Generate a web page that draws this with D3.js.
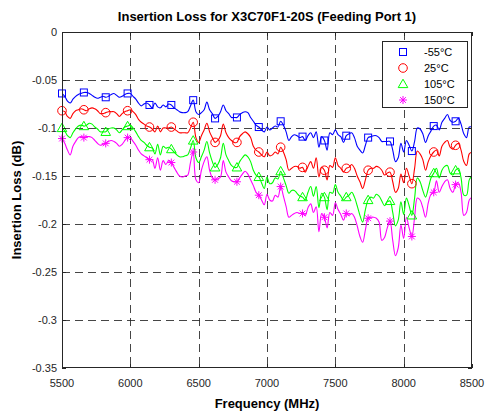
<!DOCTYPE html>
<html>
<head>
<meta charset="utf-8">
<script src="https://cdn.jsdelivr.net/npm/d3@7/dist/d3.min.js"></script>
<style>
  html, body { margin: 0; padding: 0; background: #fff; }
  svg text { font-family: "Liberation Sans", Arial, Helvetica, sans-serif; }
</style>
</head>
<body>
<svg id="chart" width="485" height="411"></svg>
<script>
// ---- data ----
const title = "Insertion Loss for X3C70F1-20S (Feeding Port 1)";
const xLabel = "Frequency (MHz)";
const yLabel = "Insertion Loss (dB)";
const seriesNames = ["-55°C", "25°C", "105°C", "150°C"];
const xTicks = [5500, 6000, 6500, 7000, 7500, 8000, 8500];
const yTicks = [0, -0.05, -0.1, -0.15, -0.2, -0.25, -0.3, -0.35];
const yTickLabels = ["0", "-0.05", "-0.1", "-0.15", "-0.2", "-0.25", "-0.3", "-0.35"];
// frequency sweep 5500..8500 MHz, 20 MHz step
const freqs = d3.range(5500, 8501, 20);

const lossM55 = [
-0.064,-0.067,-0.072,-0.074,-0.070,-0.067,-0.065,-0.064,-0.063,-0.063,
-0.064,-0.066,-0.068,-0.069,-0.068,-0.067,-0.068,-0.067,-0.065,-0.064,
-0.066,-0.068,-0.067,-0.065,-0.064,-0.064,-0.067,-0.070,-0.074,-0.077,
-0.075,-0.074,-0.076,-0.079,-0.074,-0.078,-0.079,-0.076,-0.078,-0.075,
-0.076,-0.079,-0.081,-0.083,-0.084,-0.084,-0.083,-0.077,-0.071,-0.083,
-0.086,-0.084,-0.081,-0.073,-0.081,-0.085,-0.090,-0.088,-0.083,-0.076,
-0.082,-0.085,-0.089,-0.089,-0.089,-0.086,-0.084,-0.083,-0.084,-0.089,
-0.093,-0.097,-0.099,-0.102,-0.104,-0.099,-0.102,-0.100,-0.098,-0.099,
-0.093,-0.097,-0.104,-0.113,-0.109,-0.107,-0.108,-0.110,-0.109,-0.113,
-0.108,-0.105,-0.110,-0.104,-0.120,-0.109,-0.113,-0.123,-0.105,-0.107,
-0.102,-0.107,-0.109,-0.115,-0.108,-0.106,-0.105,-0.110,-0.119,-0.123,
-0.126,-0.118,-0.110,-0.109,-0.108,-0.108,-0.110,-0.114,-0.114,-0.114,
-0.114,-0.123,-0.135,-0.131,-0.116,-0.125,-0.113,-0.118,-0.124,-0.114,
-0.100,-0.101,-0.106,-0.115,-0.108,-0.103,-0.098,-0.097,-0.102,-0.094,
-0.090,-0.086,-0.092,-0.094,-0.093,-0.090,-0.096,-0.106,-0.110,-0.099,
-0.099];

const loss25 = [
-0.082,-0.083,-0.088,-0.090,-0.085,-0.082,-0.081,-0.080,-0.081,-0.082,
-0.080,-0.079,-0.080,-0.082,-0.085,-0.085,-0.084,-0.083,-0.083,-0.083,
-0.085,-0.088,-0.085,-0.083,-0.082,-0.081,-0.083,-0.086,-0.091,-0.094,
-0.096,-0.098,-0.099,-0.101,-0.104,-0.098,-0.104,-0.100,-0.100,-0.100,
-0.099,-0.101,-0.103,-0.105,-0.105,-0.105,-0.105,-0.100,-0.094,-0.110,
-0.115,-0.108,-0.102,-0.095,-0.104,-0.110,-0.115,-0.113,-0.108,-0.096,
-0.105,-0.110,-0.113,-0.115,-0.115,-0.109,-0.106,-0.104,-0.106,-0.110,
-0.119,-0.123,-0.125,-0.128,-0.130,-0.125,-0.129,-0.128,-0.125,-0.127,
-0.120,-0.125,-0.133,-0.144,-0.142,-0.140,-0.140,-0.142,-0.141,-0.146,
-0.140,-0.135,-0.142,-0.131,-0.151,-0.141,-0.144,-0.154,-0.139,-0.141,
-0.131,-0.139,-0.142,-0.146,-0.142,-0.141,-0.138,-0.142,-0.150,-0.156,
-0.163,-0.154,-0.144,-0.142,-0.142,-0.140,-0.141,-0.144,-0.149,-0.147,
-0.146,-0.156,-0.167,-0.163,-0.148,-0.157,-0.142,-0.150,-0.158,-0.142,
-0.124,-0.127,-0.133,-0.144,-0.135,-0.129,-0.125,-0.123,-0.129,-0.119,
-0.115,-0.113,-0.120,-0.122,-0.118,-0.116,-0.123,-0.135,-0.139,-0.127,
-0.125];

const loss105 = [
-0.100,-0.103,-0.108,-0.110,-0.105,-0.101,-0.098,-0.097,-0.098,-0.097,
-0.095,-0.096,-0.099,-0.101,-0.104,-0.104,-0.104,-0.101,-0.100,-0.100,
-0.102,-0.105,-0.102,-0.099,-0.098,-0.097,-0.100,-0.104,-0.109,-0.113,
-0.115,-0.118,-0.120,-0.121,-0.127,-0.117,-0.128,-0.119,-0.121,-0.120,
-0.122,-0.125,-0.128,-0.130,-0.130,-0.129,-0.128,-0.121,-0.113,-0.131,
-0.136,-0.130,-0.123,-0.114,-0.126,-0.135,-0.141,-0.138,-0.131,-0.116,
-0.128,-0.134,-0.139,-0.141,-0.141,-0.135,-0.131,-0.128,-0.130,-0.135,
-0.144,-0.149,-0.151,-0.157,-0.163,-0.151,-0.158,-0.157,-0.152,-0.153,
-0.145,-0.152,-0.160,-0.168,-0.165,-0.165,-0.168,-0.171,-0.172,-0.175,
-0.167,-0.161,-0.171,-0.161,-0.183,-0.168,-0.172,-0.185,-0.167,-0.168,
-0.159,-0.167,-0.171,-0.175,-0.172,-0.170,-0.167,-0.172,-0.181,-0.191,
-0.198,-0.185,-0.175,-0.172,-0.173,-0.169,-0.171,-0.176,-0.181,-0.177,
-0.176,-0.188,-0.202,-0.196,-0.177,-0.190,-0.173,-0.181,-0.191,-0.173,
-0.152,-0.156,-0.165,-0.172,-0.163,-0.152,-0.147,-0.142,-0.152,-0.144,
-0.140,-0.139,-0.147,-0.149,-0.144,-0.142,-0.152,-0.170,-0.170,-0.154,
-0.150];

const loss150 = [
-0.111,-0.116,-0.123,-0.128,-0.119,-0.114,-0.110,-0.109,-0.110,-0.109,
-0.109,-0.110,-0.113,-0.116,-0.118,-0.117,-0.116,-0.114,-0.113,-0.114,
-0.116,-0.119,-0.117,-0.113,-0.110,-0.110,-0.114,-0.118,-0.123,-0.127,
-0.129,-0.131,-0.133,-0.133,-0.142,-0.131,-0.144,-0.134,-0.138,-0.134,
-0.136,-0.141,-0.146,-0.150,-0.151,-0.150,-0.149,-0.136,-0.125,-0.154,
-0.157,-0.144,-0.135,-0.130,-0.144,-0.152,-0.154,-0.153,-0.151,-0.134,
-0.146,-0.151,-0.155,-0.156,-0.156,-0.152,-0.148,-0.145,-0.148,-0.154,
-0.160,-0.167,-0.170,-0.175,-0.180,-0.169,-0.175,-0.176,-0.170,-0.172,
-0.161,-0.171,-0.182,-0.193,-0.191,-0.189,-0.188,-0.189,-0.189,-0.191,
-0.183,-0.179,-0.188,-0.182,-0.208,-0.189,-0.193,-0.204,-0.188,-0.191,
-0.178,-0.185,-0.190,-0.196,-0.189,-0.191,-0.189,-0.193,-0.202,-0.213,
-0.219,-0.206,-0.194,-0.193,-0.193,-0.194,-0.198,-0.217,-0.214,-0.204,
-0.197,-0.217,-0.233,-0.225,-0.201,-0.215,-0.193,-0.204,-0.213,-0.193,
-0.173,-0.175,-0.183,-0.193,-0.178,-0.169,-0.167,-0.155,-0.167,-0.161,
-0.156,-0.154,-0.163,-0.167,-0.159,-0.157,-0.167,-0.191,-0.188,-0.175,
-0.172];

const seriesValues = [lossM55, loss25, loss105, loss150];
const seriesColors = ["#0000ff", "#ff0000", "#00ff00", "#ff00ff"];
const seriesSymbols = ["square", "circle", "triangle", "asterisk"];
const markerEvery = 8;

// ---- layout ----
const svg = d3.select("#chart");
const L = 62, R = 472, T = 32, B = 368;
const x = d3.scaleLinear().domain([5500, 8500]).range([L, R]);
const y = d3.scaleLinear().domain([-0.35, 0]).range([B, T]);

svg.append("rect").attr("width", 485).attr("height", 411).attr("fill", "#fff");

// grid
const grid = svg.append("g").attr("stroke", "#262626").attr("stroke-width", 1)
  .attr("stroke-dasharray", "8,5").attr("stroke-opacity", 0.85).attr("fill", "none");
xTicks.filter(v => v > 5500 && v < 8500).forEach(v => {
  const px = Math.round(x(v)) + 0.5;
  grid.append("line").attr("x1", px).attr("x2", px).attr("y1", T).attr("y2", B);
});
yTicks.filter(v => v < 0 && v > -0.35).forEach(v => {
  const py = Math.round(y(v)) + 0.5;
  grid.append("line").attr("x1", L).attr("x2", R).attr("y1", py).attr("y2", py);
});

// clip
svg.append("clipPath").attr("id", "clip").append("rect")
  .attr("x", L).attr("y", T).attr("width", R - L).attr("height", B - T);

// lines
const line = d3.line().x((d, i) => x(freqs[i])).y(d => y(d)).curve(d3.curveCatmullRom.alpha(0.5));
const plot = svg.append("g").attr("clip-path", "url(#clip)");
seriesValues.forEach((vals, s) => {
  plot.append("path").datum(vals).attr("d", line)
    .attr("fill", "none").attr("stroke", seriesColors[s]).attr("stroke-width", 1.1)
    .attr("stroke-linejoin", "round");
});

function drawMarker(g, sym, cx, cy, color) {
  if (sym === "square") {
    g.append("rect").attr("x", cx - 3.5).attr("y", cy - 3.5).attr("width", 7).attr("height", 7)
      .attr("fill", "none").attr("stroke", color).attr("stroke-width", 1);
  } else if (sym === "circle") {
    g.append("circle").attr("cx", cx).attr("cy", cy).attr("r", 4.3)
      .attr("fill", "none").attr("stroke", color).attr("stroke-width", 1);
  } else if (sym === "triangle") {
    const h = 4.8;
    g.append("path").attr("d", `M${cx},${cy - h}L${cx + h},${cy + h * 0.75}L${cx - h},${cy + h * 0.75}Z`)
      .attr("fill", "none").attr("stroke", color).attr("stroke-width", 1);
  } else {
    const r = 4;
    let d = `M${cx - r},${cy}L${cx + r},${cy}M${cx},${cy - r}L${cx},${cy + r}`;
    const q = r * 0.72;
    d += `M${cx - q},${cy - q}L${cx + q},${cy + q}M${cx - q},${cy + q}L${cx + q},${cy - q}`;
    g.append("path").attr("d", d).attr("fill", "none").attr("stroke", color).attr("stroke-width", 1);
  }
}

const mk = svg.append("g");
seriesValues.forEach((vals, s) => {
  vals.forEach((v, i) => {
    if (i % markerEvery === 0) drawMarker(mk, seriesSymbols[s], x(freqs[i]), y(v), seriesColors[s]);
  });
});

// axes box + inward ticks
const axisColor = "#262626";
const ax = svg.append("g");
ax.append("rect").attr("x", L + 0.5).attr("y", T + 0.5).attr("width", R - L - 1).attr("height", B - T - 1)
  .attr("fill", "none").attr("stroke", axisColor).attr("stroke-width", 1);
const tl = 4;
xTicks.forEach(v => {
  const px = Math.round(x(v)) + 0.5;
  ax.append("line").attr("x1", px).attr("x2", px).attr("y1", B).attr("y2", B - tl).attr("stroke", axisColor);
  ax.append("line").attr("x1", px).attr("x2", px).attr("y1", T).attr("y2", T + tl).attr("stroke", axisColor);
  ax.append("text").attr("x", x(v)).attr("y", B + 19).attr("text-anchor", "middle")
    .attr("font-size", 11).attr("fill", "#262626").text(String(v));
});
yTicks.forEach((v, k) => {
  const py = Math.round(y(v)) + 0.5;
  ax.append("line").attr("x1", L).attr("x2", L + tl).attr("y1", py).attr("y2", py).attr("stroke", axisColor);
  ax.append("line").attr("x1", R).attr("x2", R - tl).attr("y1", py).attr("y2", py).attr("stroke", axisColor);
  ax.append("text").attr("x", L - 5).attr("y", y(v) + 4).attr("text-anchor", "end")
    .attr("font-size", 11).attr("fill", "#262626").text(yTickLabels[k]);
});

// titles
svg.append("text").attr("x", (L + R) / 2).attr("y", 21).attr("text-anchor", "middle")
  .attr("font-size", 13).attr("font-weight", "bold").attr("fill", "#000").text(title);
svg.append("text").attr("x", (L + R) / 2).attr("y", 408).attr("text-anchor", "middle")
  .attr("font-size", 13).attr("font-weight", "bold").attr("fill", "#000").text(xLabel);
svg.append("text").attr("transform", `translate(21,${(T + B) / 2}) rotate(-90)`).attr("text-anchor", "middle")
  .attr("font-size", 13).attr("font-weight", "bold").attr("fill", "#000").text(yLabel);

// legend
const lg = svg.append("g");
lg.append("rect").attr("x", 382.5).attr("y", 41.5).attr("width", 85).attr("height", 66)
  .attr("fill", "#fff").attr("stroke", axisColor).attr("stroke-width", 1);
seriesNames.forEach((n, s) => {
  const cy = 52 + s * 16;
  drawMarker(lg, seriesSymbols[s], 403, cy, seriesColors[s]);
  lg.append("text").attr("x", 424).attr("y", cy + 4).attr("font-size", 11).attr("fill", "#000").text(n);
});
</script>
</body>
</html>
